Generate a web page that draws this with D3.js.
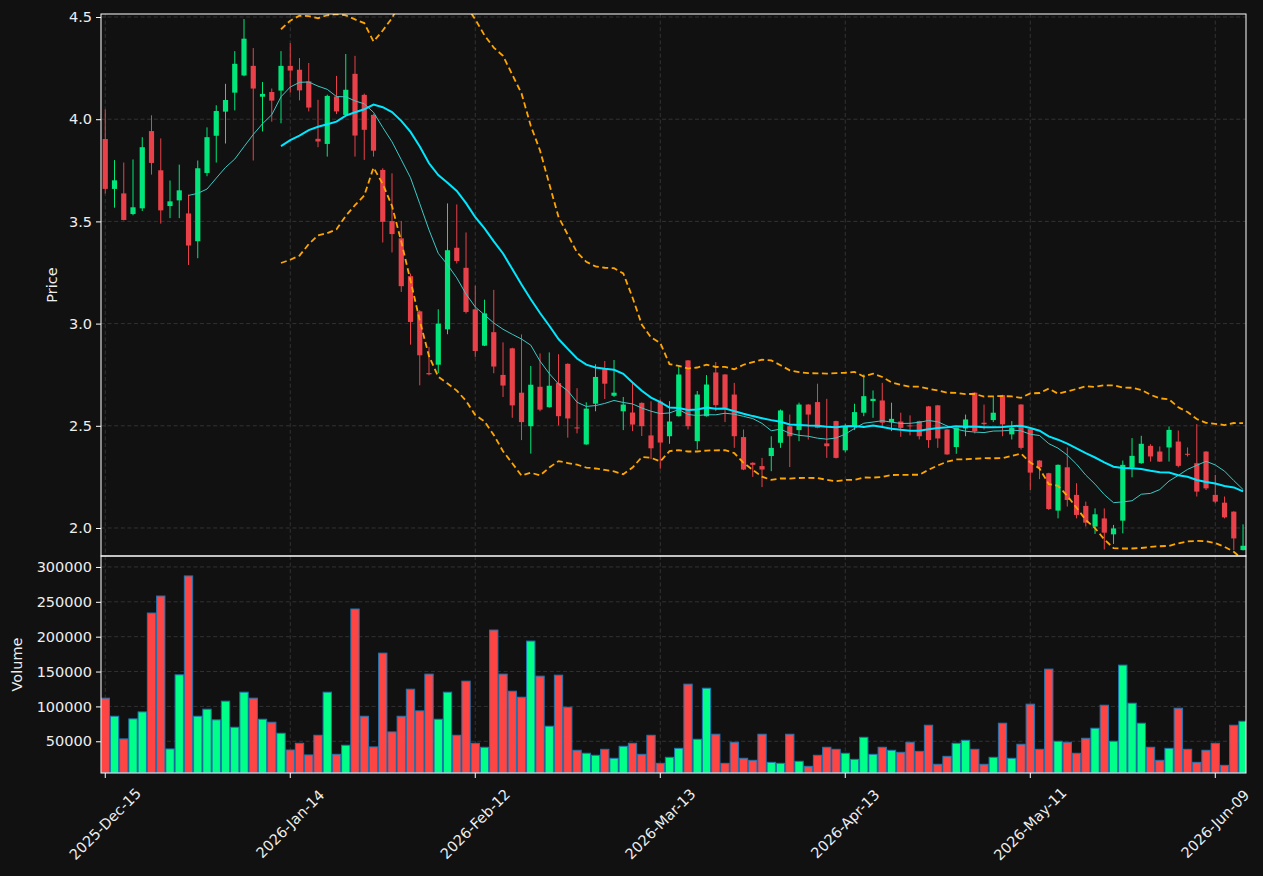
<!DOCTYPE html>
<html>
<head>
<meta charset="utf-8">
<script src="https://cdn.jsdelivr.net/npm/d3@7"></script>
<style>
  html, body { margin: 0; padding: 0; background: #111111; }
  svg { display: block; }
  text { font-family: "DejaVu Sans", sans-serif; fill: #eeeeee; }
</style>
</head>
<body>
<svg id="chart" width="1263" height="876"></svg>
<script>
// ---- DATA ----
const tickIndex = [0, 20, 40, 60, 80, 100, 120];
const tickLabels = ["2025-Dec-15", "2026-Jan-14", "2026-Feb-12", "2026-Mar-13", "2026-Apr-13", "2026-May-11", "2026-Jun-09"];
const priceTicks = [2.0, 2.5, 3.0, 3.5, 4.0, 4.5];
const volumeTicks = [50000, 100000, 150000, 200000, 250000, 300000];

const opens = [3.903,3.659,3.637,3.536,3.564,3.942,3.750,3.575,3.603,3.539,3.403,3.737,3.919,4.037,4.130,4.214,4.261,4.110,4.133,4.140,
4.261,4.242,4.185,3.904,3.879,4.111,4.021,4.222,4.119,4.021,3.752,3.502,3.417,3.232,3.060,2.758,2.799,2.972,3.371,3.273,
3.070,2.892,2.958,2.749,2.879,2.662,2.498,2.691,2.591,2.709,2.803,2.492,2.409,2.608,2.782,2.647,2.571,2.565,2.612,2.453,
2.618,2.449,2.547,2.820,2.425,2.547,2.761,2.751,2.653,2.445,2.319,2.303,2.352,2.417,2.498,2.479,2.604,2.616,2.414,2.523,
2.380,2.498,2.564,2.621,2.624,2.518,2.521,2.502,2.523,2.595,2.600,2.482,2.396,2.487,2.662,2.515,2.528,2.650,2.458,2.604,
2.484,2.330,2.268,2.085,2.297,2.162,2.108,2.007,2.047,1.969,2.036,2.296,2.317,2.402,2.374,2.394,2.423,2.363,2.317,2.374,
2.162,2.124,2.080,1.892];
const highs = [4.048,3.800,3.788,3.803,3.912,4.019,3.906,3.700,3.778,3.631,3.798,3.960,4.068,4.173,4.333,4.490,4.348,4.182,4.150,4.333,
4.372,4.299,4.275,4.095,4.120,4.212,4.319,4.310,4.125,4.025,3.760,3.735,3.502,3.245,3.065,2.886,3.070,3.588,3.583,3.446,
3.186,3.117,3.165,2.908,2.882,2.947,2.793,2.854,2.859,2.850,2.806,2.684,2.615,2.801,2.817,2.822,2.641,2.709,2.615,2.620,
2.628,2.621,2.792,2.822,2.670,2.748,2.812,2.753,2.710,2.482,2.322,2.343,2.449,2.580,2.555,2.613,2.606,2.706,2.632,2.525,
2.510,2.608,2.751,2.673,2.710,2.613,2.564,2.551,2.525,2.597,2.602,2.484,2.490,2.555,2.664,2.604,2.645,2.652,2.523,2.606,
2.486,2.332,2.270,2.311,2.394,2.219,2.129,2.096,2.096,2.015,2.330,2.440,2.451,2.410,2.399,2.497,2.477,2.394,2.508,2.376,
2.260,2.154,2.082,2.018];
const lows = [3.636,3.567,3.505,3.530,3.551,3.729,3.489,3.516,3.516,3.287,3.320,3.721,3.788,3.881,4.043,4.210,3.798,3.940,3.988,3.980,
4.130,4.092,4.038,3.863,3.817,4.025,4.020,3.817,3.801,3.817,3.397,3.348,3.155,2.897,2.698,2.747,2.758,2.948,3.294,3.049,
2.837,2.890,2.757,2.641,2.539,2.430,2.364,2.571,2.589,2.502,2.442,2.463,2.407,2.571,2.631,2.641,2.479,2.474,2.450,2.337,
2.290,2.412,2.545,2.482,2.384,2.545,2.572,2.518,2.392,2.283,2.250,2.200,2.278,2.392,2.298,2.425,2.433,2.488,2.343,2.340,
2.370,2.479,2.547,2.539,2.498,2.474,2.446,2.453,2.433,2.392,2.392,2.358,2.363,2.449,2.462,2.482,2.518,2.449,2.433,2.384,
2.186,2.239,2.088,2.047,2.105,2.047,2.007,1.971,1.895,1.922,1.974,2.248,2.314,2.325,2.323,2.325,2.297,2.350,2.154,2.186,
2.121,2.047,1.892,1.890];
const closes = [3.659,3.701,3.507,3.569,3.863,3.786,3.554,3.598,3.652,3.382,3.760,3.912,4.040,4.094,4.271,4.394,4.150,4.124,4.091,4.261,
4.238,4.141,4.057,3.891,4.114,4.038,4.144,3.920,3.948,3.846,3.498,3.438,3.183,3.008,2.845,2.752,3.000,3.359,3.306,3.057,
2.866,3.050,2.790,2.697,2.600,2.518,2.701,2.579,2.696,2.547,2.536,2.489,2.584,2.739,2.706,2.662,2.604,2.506,2.498,2.390,
2.418,2.521,2.751,2.498,2.653,2.702,2.601,2.583,2.449,2.286,2.309,2.286,2.392,2.575,2.449,2.604,2.555,2.490,2.400,2.343,
2.498,2.567,2.645,2.632,2.515,2.534,2.490,2.498,2.449,2.430,2.438,2.360,2.490,2.531,2.474,2.508,2.564,2.507,2.490,2.392,
2.271,2.297,2.093,2.309,2.137,2.064,2.026,2.067,1.977,1.998,2.309,2.353,2.412,2.350,2.325,2.480,2.304,2.359,2.178,2.194,
2.129,2.052,1.949,1.913];
const volumes = [111800,85900,53400,82100,92100,233900,258300,39000,145300,287100,85900,96000,80700,107500,70100,120400,111800,81600,77300,61500,
37500,47100,30400,58600,120400,31300,44300,239700,85900,41900,176400,63400,85900,124700,93600,146300,81600,120400,58600,136200,
47100,41400,209500,146300,121800,113200,193700,143400,71600,144800,98800,37100,32800,29900,38500,25600,42800,47100,31300,58600,
18400,27000,39900,131900,52900,126100,60100,18400,48600,25600,22700,60100,19800,18400,60100,21300,14100,29900,41400,38500,
32800,24100,55700,31300,41400,37100,34200,48600,35600,73000,17000,28400,47100,51400,38500,17000,27000,75900,25600,45700,
103200,38500,153500,50000,48600,32800,54300,68700,101700,50000,159200,104600,75900,41400,22700,39900,97400,38500,19800,37100,
47100,15500,73000,78700];

// ---- indicators derived from the closes ----
function sma(arr, n) {
  return arr.map((_, i) => i < n - 1 ? null : d3.mean(arr.slice(i - n + 1, i + 1)));
}
function bands(arr, n, k) {
  const m = sma(arr, n);
  return arr.map((_, i) => {
    if (m[i] === null) return null;
    const s = arr.slice(i - n + 1, i + 1);
    const sd = Math.sqrt(d3.mean(s.map(v => (v - m[i]) * (v - m[i]))));
    return { up: m[i] + k * sd, lo: m[i] - k * sd };
  });
}
const ma10 = sma(closes, 10);
const ma20 = sma(closes, 20);
const bb = bands(closes, 20, 2);

// ---- layout ----
const L = 101, R = 1246, pTop = 14, pBot = 556, vTop = 556, vBot = 773;
const svg = d3.select("#chart");
svg.append("rect").attr("width", 1263).attr("height", 876).attr("fill", "#111111");

const n = closes.length;
const idx = d3.range(n);
const x = d3.scaleLinear().domain([-0.46, 123.32]).range([L, R]);
const step = x(1) - x(0);
const yP = d3.scaleLinear().domain([1.863, 4.5147]).range([pBot, pTop]);
const yV = d3.scaleLinear().domain([4500, 315700]).range([vBot, vTop]);

const defs = svg.append("defs");
defs.append("clipPath").attr("id", "clipP").append("rect")
  .attr("x", L).attr("y", pTop).attr("width", R - L).attr("height", pBot - pTop);
defs.append("clipPath").attr("id", "clipV").append("rect")
  .attr("x", L).attr("y", vTop).attr("width", R - L).attr("height", vBot - vTop);

const gridColor = "#3b3b3b";
const gridDash = "4,2.6";

// grids
const grid = svg.append("g");
grid.selectAll(".gp").data(priceTicks).join("line")
  .attr("x1", L).attr("x2", R).attr("y1", d => yP(d)).attr("y2", d => yP(d))
  .attr("stroke", gridColor).attr("stroke-width", 0.8).attr("stroke-dasharray", gridDash);
grid.selectAll(".gv").data(volumeTicks).join("line")
  .attr("x1", L).attr("x2", R).attr("y1", d => yV(d)).attr("y2", d => yV(d))
  .attr("stroke", gridColor).attr("stroke-width", 0.8).attr("stroke-dasharray", gridDash);
[[pTop, pBot], [vTop, vBot]].forEach(([a, b]) => {
  grid.append("g").selectAll("line").data(tickIndex).join("line")
    .attr("x1", d => x(d)).attr("x2", d => x(d)).attr("y1", a).attr("y2", b)
    .attr("stroke", gridColor).attr("stroke-width", 0.8).attr("stroke-dasharray", gridDash);
});

const upC = "#00e67b", dnC = "#e8414a";
const upV = "#00ff88", dnV = "#ff4444";

// candles
const pg = svg.append("g").attr("clip-path", "url(#clipP)");
const bw = step * 0.56;
pg.selectAll(".wick").data(idx).join("line")
  .attr("x1", i => x(i)).attr("x2", i => x(i))
  .attr("y1", i => yP(highs[i])).attr("y2", i => yP(lows[i]))
  .attr("stroke", i => closes[i] >= opens[i] ? upC : dnC).attr("stroke-width", 1);
pg.selectAll(".body").data(idx).join("rect")
  .attr("x", i => x(i) - bw / 2).attr("width", bw)
  .attr("y", i => yP(Math.max(opens[i], closes[i])))
  .attr("height", i => Math.max(1, Math.abs(yP(opens[i]) - yP(closes[i]))))
  .attr("fill", i => closes[i] >= opens[i] ? upC : dnC);

// indicator lines
const lineOf = arr => d3.line().defined(i => arr[i] !== null).x(i => x(i)).y(i => yP(arr[i]));
const bbUp = bb.map(d => d ? d.up : null), bbLo = bb.map(d => d ? d.lo : null);
pg.append("path").datum(idx).attr("d", lineOf(bbUp)).attr("fill", "none")
  .attr("stroke", "#ffa500").attr("stroke-width", 1.8).attr("stroke-dasharray", "6,3.5");
pg.append("path").datum(idx).attr("d", lineOf(bbLo)).attr("fill", "none")
  .attr("stroke", "#ffa500").attr("stroke-width", 1.8).attr("stroke-dasharray", "6,3.5");
pg.append("path").datum(idx).attr("d", lineOf(ma10)).attr("fill", "none")
  .attr("stroke", "#3cc9c4").attr("stroke-width", 1);
pg.append("path").datum(idx).attr("d", lineOf(ma20)).attr("fill", "none")
  .attr("stroke", "#00e8ff").attr("stroke-width", 2);

// volume bars
const vg = svg.append("g").attr("clip-path", "url(#clipV)");
const vw = step * 0.9;
vg.selectAll("rect").data(idx).join("rect")
  .attr("x", i => x(i) - vw / 2).attr("width", vw)
  .attr("y", i => yV(volumes[i])).attr("height", i => vBot - yV(volumes[i]))
  .attr("fill", i => closes[i] >= opens[i] ? upV : dnV)
  .attr("stroke", "#1f77b4").attr("stroke-width", 1);

// frames
svg.append("rect").attr("x", L).attr("y", pTop).attr("width", R - L).attr("height", pBot - pTop)
  .attr("fill", "none").attr("stroke", "#ffffff").attr("stroke-width", 1);
svg.append("rect").attr("x", L).attr("y", vTop).attr("width", R - L).attr("height", vBot - vTop)
  .attr("fill", "none").attr("stroke", "#ffffff").attr("stroke-width", 1);

// axes
const fs = 14.5;
const yAxisP = d3.axisLeft(yP).tickValues(priceTicks).tickFormat(d3.format(".1f")).tickSize(5).tickPadding(4);
const gP = svg.append("g").attr("transform", `translate(${L},0)`).call(yAxisP);
const yAxisV = d3.axisLeft(yV).tickValues(volumeTicks).tickFormat(d3.format("d")).tickSize(5).tickPadding(4);
const gV = svg.append("g").attr("transform", `translate(${L},0)`).call(yAxisV);
[gP, gV].forEach(g => {
  g.select(".domain").remove();
  g.selectAll(".tick line").attr("stroke", "#ffffff");
  g.selectAll(".tick text").attr("fill", "#eeeeee").style("font-size", fs + "px").style("font-family", "DejaVu Sans");
});

// x axis ticks and rotated labels
const xg = svg.append("g");
xg.selectAll("line").data(tickIndex).join("line")
  .attr("x1", d => x(d)).attr("x2", d => x(d)).attr("y1", vBot).attr("y2", vBot + 5)
  .attr("stroke", "#ffffff");
xg.selectAll("text").data(tickIndex).join("text")
  .attr("text-anchor", "middle").attr("dominant-baseline", "central")
  .style("font-size", fs + "px")
  .attr("transform", d => `translate(${x(d)},824) rotate(-45)`)
  .text((d, k) => tickLabels[k]);

// axis titles
svg.append("text").attr("transform", `translate(52,${(pTop + pBot) / 2}) rotate(-90)`)
  .attr("text-anchor", "middle").attr("dominant-baseline", "central").style("font-size", fs + "px").text("Price");
svg.append("text").attr("transform", `translate(17,${(vTop + vBot) / 2}) rotate(-90)`)
  .attr("text-anchor", "middle").attr("dominant-baseline", "central").style("font-size", fs + "px").text("Volume");
</script>
</body>
</html>
